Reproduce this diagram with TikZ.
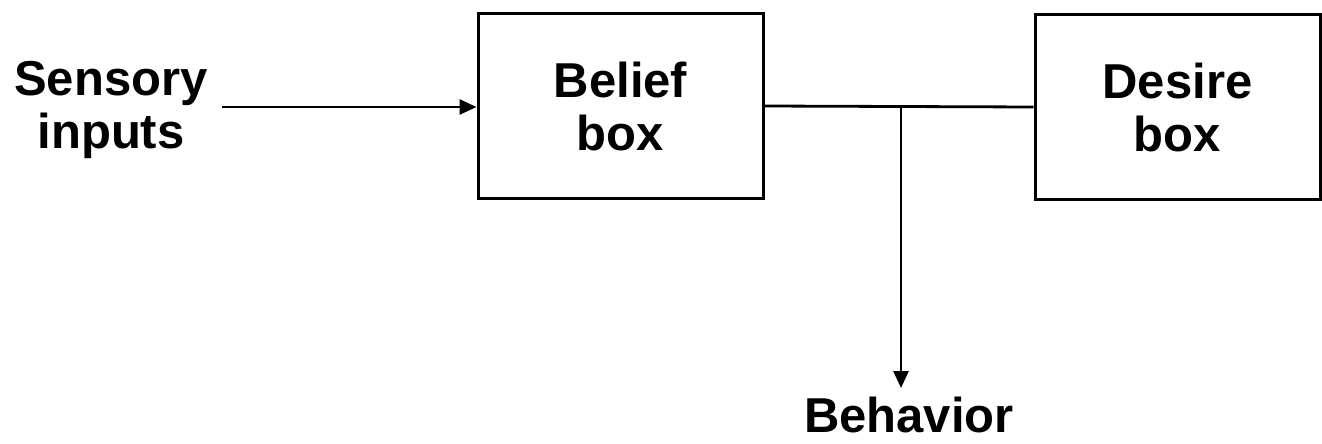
\documentclass[tikz,border=0pt]{standalone}
\usepackage{fontspec}
\setmainfont{Liberation Sans}
\usetikzlibrary{arrows.meta,positioning}

\begin{document}
\begin{tikzpicture}
	[x=1pt,y=-1pt,line width=2.8pt,
	every node/.style={align=center,inner sep=0pt,
		font=\fontsize{49}{53}\selectfont\bfseries},
	blockbox/.style={draw,line width=3pt,minimum width=285pt,
		minimum height=185pt},
	arr/.style={-{Triangle[length=17pt,width=15pt]}}]
	\useasboundingbox (0,0) rectangle (1322,444);
	\node (sens) at (111,110) {Sensory\\inputs};
	\node[blockbox] (belief) at (620.5,106) {Belief\\box};
	\node[blockbox] (desire) at (1177.5,107) {Desire\\box};
	\node (behav) at (909,415) {Behavior};
	\coordinate (junc) at (901,108);
	\coordinate (start) at (222,107);
	\draw[arr] (start) -- (start -| belief.west);
	\draw (belief.east) -- (desire.west);
	\draw[arr] (junc) -- ++(0,280);
\end{tikzpicture}
\end{document}
